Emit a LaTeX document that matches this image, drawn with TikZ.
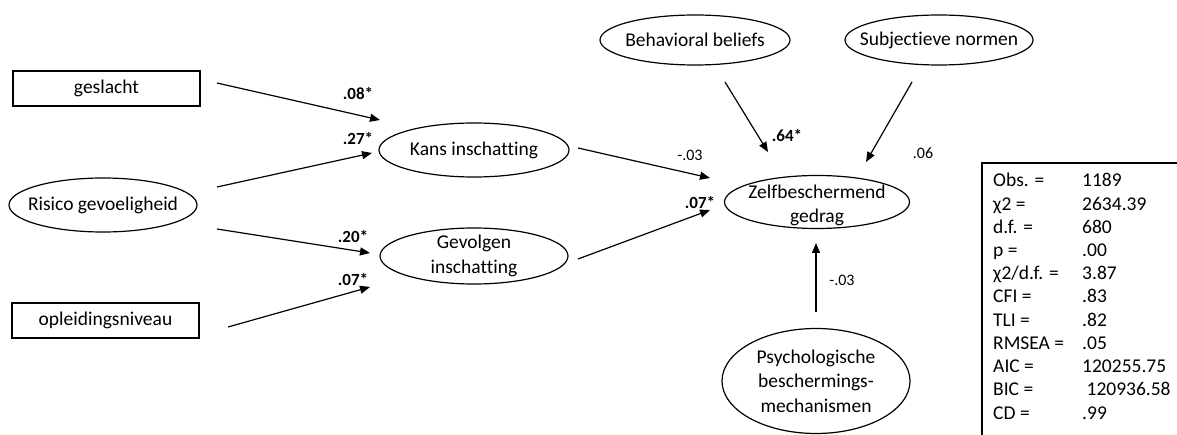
\documentclass[tikz,border=0pt]{standalone}
\usepackage{fontspec}
\setmainfont[Ligatures=NoCommon]{Carlito}
\usetikzlibrary{shapes.geometric,arrows.meta}
\begin{document}
\begin{tikzpicture}[x=1pt,y=-1pt,
  txt/.style={font=\fontsize{19.5}{24.5}\selectfont, inner sep=0pt, align=center},
  box/.style={draw, line width=1.2pt, inner sep=0pt, minimum width=187pt, minimum height=35pt, font=\fontsize{19.5}{24.5}\selectfont},
  ell/.style={draw, ellipse, line width=1.2pt, inner sep=0pt},
  arr/.style={line width=1.2pt, -{Triangle[length=10pt,width=8pt]}},
  coefb/.style={font=\fontsize{17}{20}\selectfont\bfseries, inner sep=0pt},
  coefp/.style={font=\fontsize{16}{20}\selectfont, inner sep=0pt},
  stat/.style={anchor=base west, inner sep=0pt, font=\fontsize{19.5}{23}\selectfont}]
\useasboundingbox (0,0) rectangle (1177,435);

% left exogenous variables
\node[box] (gesl) at (106.5,88.5) {geslacht};
\node[ell, minimum width=188pt, minimum height=54pt,
  label={[txt]center:Risico gevoeligheid}] (risico) at (103,205) {};
\node[box] (opl) at (105.5,320.5) {opleidingsniveau};

% mediators
\node[ell, minimum width=190pt, minimum height=54pt,
  label={[txt]center:Kans inschatting}] (kans) at (474,150) {};
\node[ell, minimum width=188pt, minimum height=56pt,
  label={[txt]center:Gevolgen\\inschatting}] (gev) at (474,256) {};

% top predictors
\node[ell, minimum width=190pt, minimum height=50pt,
  label={[txt]center:Behavioral beliefs}] (beh) at (695,40) {};
\node[ell, minimum width=188pt, minimum height=50pt,
  label={[txt]center:Subjectieve normen}] (subj) at (939,40) {};

% outcome
\node[ell, minimum width=185pt, minimum height=53pt] (zelf) at (817,202) {};
\node[txt] (zelft) at (817,205.5) {Zelfbeschermend\\gedrag};

% bottom predictor
\node[ell, minimum width=188pt, minimum height=105pt,
  label={[txt]center:Psychologische\\beschermings-\\mechanismen}] (psych) at (816,381) {};

% connector end points
\coordinate (gesl-o) at (217,83);   \coordinate (kans-i1) at (380,120);
\coordinate (ris-o1) at (217,187);  \coordinate (kans-i2) at (372,153);
\coordinate (ris-o2) at (217,229);  \coordinate (gev-i1) at (370,253);
\coordinate (opl-o) at (228,327);   \coordinate (gev-i2) at (370,287);
\coordinate (kans-o) at (578,148);  \coordinate (zelf-i1) at (710,178);
\coordinate (gev-o) at (578,259);   \coordinate (zelf-i2) at (710,210);
\coordinate (beh-o) at (725,82);    \coordinate (zelf-i3) at (768,152);
\coordinate (subj-o) at (912,82);   \coordinate (zelf-i4) at (866,162);
\coordinate (psych-o) at (816,312); \coordinate (zelf-i5) at (816,243);

\draw[arr] (gesl-o) -- (kans-i1);
\draw[arr] (ris-o1) -- (kans-i2);
\draw[arr] (ris-o2) -- (gev-i1);
\draw[arr] (opl-o) -- (gev-i2);
\draw[arr] (kans-o) -- (zelf-i1);
\draw[arr] (gev-o) -- (zelf-i2);
\draw[arr] (beh-o) -- (zelf-i3);
\draw[arr] (subj-o) -- (zelf-i4);
\draw[arr] (psych-o) -- (zelf-i5);

% coefficients
\node[coefb] (c1) at (358,93) {.08*};
\node[coefb] (c2) at (358,138) {.27*};
\node[coefb] (c3) at (353,236) {.20*};
\node[coefb] (c4) at (353,279) {.07*};
\node[coefp] (c5) at (690,155) {-.03};
\node[coefb] (c6) at (700,202) {.07*};
\node[coefb] (c7) at (787,135) {.64*};
\node[coefp] (c8) at (923,153) {.06};
\node[coefp] (c9) at (842,280) {-.03};

% fit statistics box (only top and left edges within view)
\coordinate (bx-bl) at (982,435);
\coordinate (bx-tl) at (982,163);
\coordinate (bx-tr) at (1177,163);
\draw[line width=1.2pt] (bx-bl) -- (bx-tl) -- (bx-tr);

\foreach \i/\l/\v in {0/Obs. =/1189, 1/χ2 =/2634.39, 2/d.f. =/680, 3/p =/.00,
  4/χ2\slash d.f. =/3.87, 5/CFI =/.83, 6/TLI =/.82, 7/RMSEA =/.05,
  8/AIC =/120255.75, 9/BIC =/\ 120936.58, 10/CD =/.99}{
  \node[stat] (l\i) at (993,{187+23.2*\i}) {\l};
  \node[stat] (v\i) at (1082,{187+23.2*\i}) {\v};
}
\end{tikzpicture}
\end{document}
